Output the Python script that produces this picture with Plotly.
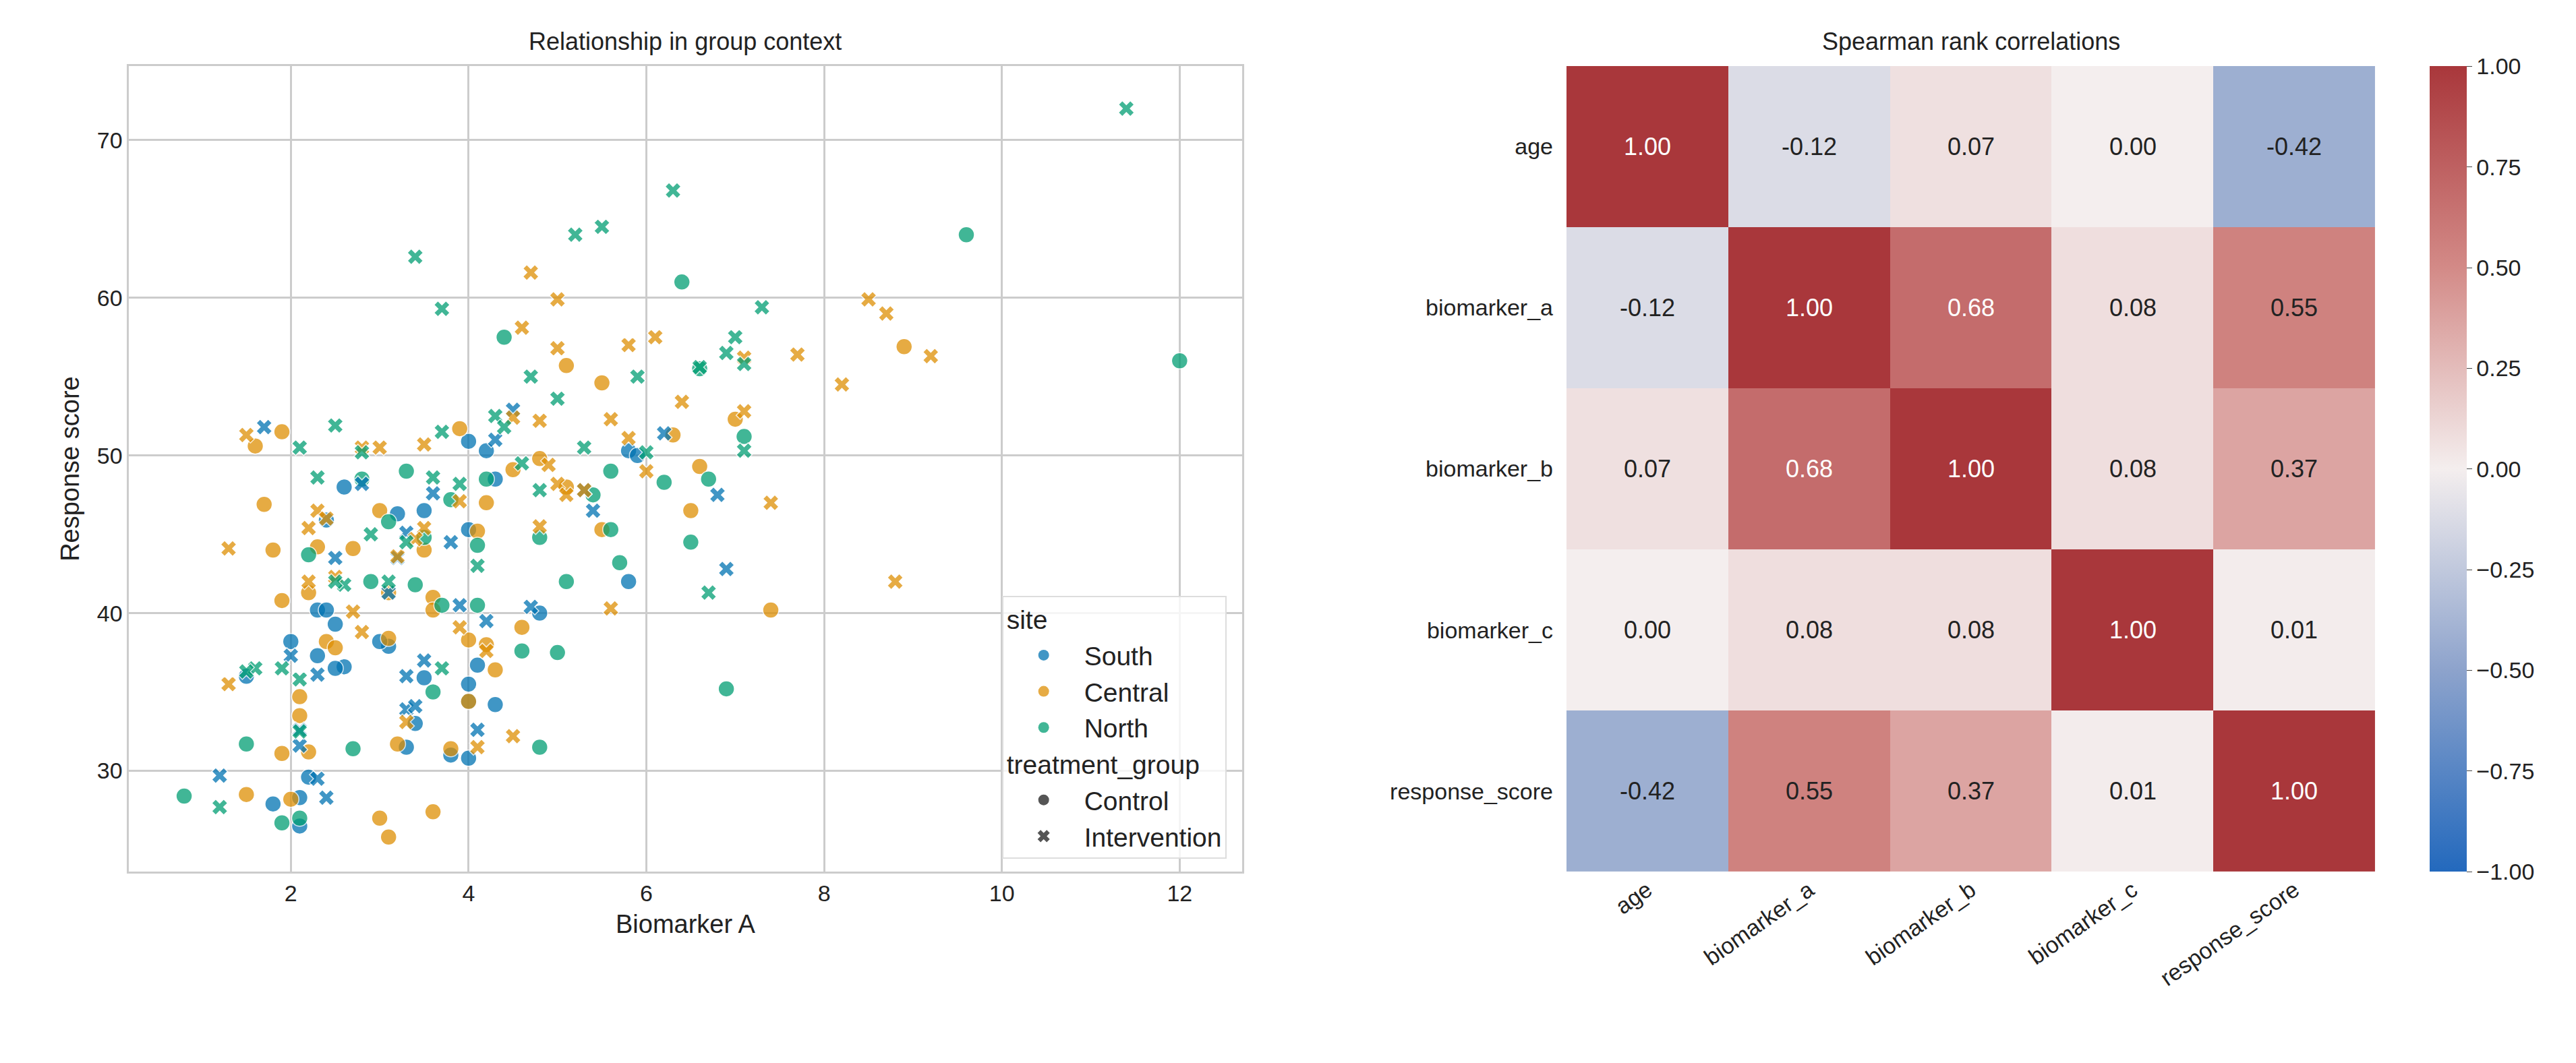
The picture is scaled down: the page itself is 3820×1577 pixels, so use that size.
import plotly.graph_objects as go

# scatter data: (biomarker A, response score)
north_int_x = [11.4, 6.3, 5.5, 5.2, 3.4, 3.7, 7.3, 7.0, 6.9, 7.1, 6.6, 5.9, 4.7, 5.0, 4.3, 4.4, 3.7, 2.5, 2.1, 2.8,
               6.0, 7.1, 4.6, 5.3, 3.6, 4.8, 3.9, 2.3, 6.7, 1.9, 1.6, 1.2, 2.1, 2.6, 3.1, 3.3, 4.1, 2.9, 2.5, 1.5, 3.7, 2.1]
north_int_y = [72.0, 66.8, 64.5, 64.0, 62.6, 59.3, 59.4, 57.5, 56.5, 55.8, 55.6, 55.0, 55.0, 53.6, 52.5, 51.8, 51.5, 51.9, 50.5, 50.2,
               50.2, 50.3, 49.5, 50.5, 48.6, 47.8, 48.2, 48.6, 41.3, 36.5, 36.5, 27.7, 32.5, 41.8, 42.0, 44.5, 43.0, 45.0, 42.0, 36.3, 36.5, 35.8]
north_ctl_x = [9.6, 12.0, 6.4, 4.4, 6.6, 6.2, 7.1, 5.6, 5.4, 4.2, 3.3, 2.8, 3.8, 2.2, 3.5, 4.1, 4.8, 5.6, 6.7, 6.9,
               5.0, 4.6, 3.7, 2.9, 3.4, 4.1, 1.5, 0.8, 1.9, 2.1, 2.7, 4.8, 3.6, 3.1, 5.1, 5.7, 6.5]
north_ctl_y = [64.0, 56.0, 61.0, 57.5, 55.5, 48.3, 51.2, 49.0, 47.5, 48.5, 49.0, 48.5, 47.2, 43.7, 44.8, 44.3, 44.8, 45.3, 48.5, 35.2,
               37.5, 37.6, 40.5, 42.0, 41.8, 40.5, 31.7, 28.4, 26.7, 27.0, 31.4, 31.5, 35.0, 45.8, 42.0, 43.2, 44.5]
central_int_x = [4.7, 5.0, 4.6, 5.0, 8.5, 8.7, 9.2, 7.7, 7.1, 8.2, 6.1, 5.8, 6.4, 7.1, 5.6, 5.8, 4.5, 4.8, 3.5, 3.0,
                 2.8, 1.5, 1.3, 2.3, 2.4, 2.2, 3.5, 3.9, 5.0, 4.9, 5.1, 5.3, 6.0, 7.4, 5.6, 4.8, 3.4, 2.7, 2.2, 2.5,
                 1.3, 2.8, 3.3, 4.1, 4.5, 8.8, 3.2, 3.9, 4.2]
central_int_y = [61.6, 59.9, 58.1, 56.8, 59.9, 59.0, 56.3, 56.4, 56.2, 54.5, 57.5, 57.0, 53.4, 52.8, 52.3, 51.1, 52.4, 52.2, 50.7, 50.5,
                 50.5, 51.3, 44.1, 46.5, 46.0, 45.4, 45.4, 47.1, 48.2, 49.4, 47.5, 47.8, 49.0, 47.0, 40.3, 45.5, 44.7, 40.1, 42.0, 42.3,
                 35.5, 38.8, 33.1, 31.5, 32.2, 42.0, 43.6, 39.1, 37.6]
central_ctl_x = [8.9, 5.5, 6.3, 5.1, 3.9, 1.9, 1.6, 6.6, 6.5, 7.0, 7.4, 1.7, 1.8, 2.3, 2.7, 3.0, 3.5, 4.5, 4.2, 4.1,
                 4.8, 1.9, 2.2, 3.1, 3.6, 4.2, 5.5, 2.4, 2.5, 3.6, 2.1, 2.1, 2.2, 3.2, 3.8, 1.9, 2.0, 1.5, 3.0, 3.6,
                 3.1, 4.6, 4.0, 5.1, 4.0, 3.1, 4.3]
central_ctl_y = [56.9, 54.6, 51.3, 55.7, 51.7, 51.5, 50.6, 49.3, 46.5, 52.3, 40.2, 46.9, 44.0, 44.2, 44.1, 46.5, 44.0, 49.1, 47.0, 45.2,
                 49.8, 40.8, 41.3, 41.3, 41.0, 38.0, 45.3, 38.2, 37.8, 40.2, 34.7, 33.5, 31.2, 31.7, 31.4, 31.1, 28.2, 28.5, 27.0, 27.4,
                 25.8, 39.1, 38.3, 48.0, 34.4, 38.4, 36.4]
south_int_x = [1.7, 4.5, 2.8, 4.3, 6.2, 6.8, 6.9, 5.4, 3.6, 3.3, 3.8, 3.2, 2.5, 2.0, 3.1, 3.9, 4.2, 4.7, 2.3, 3.3,
               3.5, 3.3, 4.1, 2.1, 2.1, 1.2, 2.3, 2.4, 3.4, 5.3]
south_int_y = [51.8, 52.9, 48.2, 51.0, 51.4, 47.5, 42.8, 46.5, 47.6, 45.1, 44.5, 43.5, 43.5, 37.3, 41.3, 40.5, 39.5, 40.4, 36.1, 36.0,
               37.0, 33.9, 32.6, 32.6, 31.6, 29.7, 29.5, 28.3, 34.1, 47.8]
south_ctl_x = [2.6, 4.0, 4.2, 4.0, 5.8, 5.9, 4.3, 2.4, 3.2, 2.3, 2.4, 2.0, 1.5, 2.5, 3.1, 3.5, 3.4, 3.0, 4.0, 4.3,
               4.0, 3.8, 2.6, 1.8, 2.1, 2.1, 2.2, 4.0, 4.1, 5.8, 3.3, 2.5, 2.3, 4.8, 3.5]
south_ctl_y = [48.0, 50.9, 50.3, 45.3, 50.3, 50.0, 48.5, 45.9, 46.3, 40.2, 40.2, 38.2, 36.0, 39.3, 37.9, 35.9, 33.0, 38.2, 35.5, 34.2,
               30.8, 31.0, 36.6, 27.9, 28.3, 26.5, 29.6, 34.4, 36.7, 42.0, 31.5, 36.5, 37.3, 40.0, 46.5]

# correlation matrix
variables = ['age', 'biomarker_a', 'biomarker_b', 'biomarker_c', 'response_score']
corr = [
    [1.00, -0.12, 0.07, 0.00, -0.42],
    [-0.12, 1.00, 0.68, 0.08, 0.55],
    [0.07, 0.68, 1.00, 0.08, 0.37],
    [0.00, 0.08, 0.08, 1.00, 0.01],
    [-0.42, 0.55, 0.37, 0.01, 1.00],
]

site_colors = {'South': '#0173b2', 'Central': '#de8f05', 'North': '#029e73'}
FONT = 'Liberation Sans, Arial, sans-serif'
TICK = 34

fig = go.Figure()

series = [
    ('South', 'circle', south_ctl_x, south_ctl_y),
    ('Central', 'circle', central_ctl_x, central_ctl_y),
    ('North', 'circle', north_ctl_x, north_ctl_y),
    ('South', 'x', south_int_x, south_int_y),
    ('Central', 'x', central_int_x, central_int_y),
    ('North', 'x', north_int_x, north_int_y),
]
for site, sym, xs, ys in series:
    fig.add_trace(go.Scatter(
        x=xs, y=ys, mode='markers', showlegend=False, xaxis='x', yaxis='y',
        marker=dict(color=site_colors[site], symbol=sym, size=24 if sym == 'circle' else 21,
                    opacity=0.75, line=dict(color='white', width=1.5)),
    ))

# legend entries
for i, site in enumerate(['South', 'Central', 'North']):
    fig.add_trace(go.Scatter(
        x=[None], y=[None], mode='markers', name=site, legendgroup='site',
        legendgrouptitle_text='site' if i == 0 else None,
        marker=dict(color=site_colors[site], size=22, opacity=0.75)))
for i, (grp, sym) in enumerate([('Control', 'circle'), ('Intervention', 'x')]):
    fig.add_trace(go.Scatter(
        x=[None], y=[None], mode='markers', name=grp, legendgroup='grp',
        legendgrouptitle_text='treatment_group' if i == 0 else None,
        marker=dict(color='#555555', symbol=sym, size=22 if sym == 'circle' else 18)))

# heatmap
colorscale = [[0, '#2369bd'], [0.25, '#8da3cc'], [0.5, '#f4eeee'], [0.75, '#d38a87'], [1, '#a9373b']]
fig.add_trace(go.Heatmap(
    z=corr, x=variables, y=variables, xaxis='x2', yaxis='y2', zmin=-1, zmax=1,
    colorscale=colorscale, showscale=True, xgap=0, ygap=0,
    colorbar=dict(x=0.941, xanchor='left', xpad=0, ypad=0, y=0.185, yanchor='bottom', len=0.758,
                  thickness=55, tickvals=[-1, -0.75, -0.5, -0.25, 0, 0.25, 0.5, 0.75, 1], tickformat='.2f',
                  ticks='outside', ticklen=8, outlinewidth=0,
                  tickfont=dict(size=TICK, family=FONT, color='#222222')),
))
for i, row in enumerate(corr):
    for j, v in enumerate(row):
        fig.add_annotation(x=variables[j], y=variables[i], xref='x2', yref='y2', text=f'{v:.2f}',
                           showarrow=False,
                           font=dict(size=36, family=FONT, color='white' if abs(v) > 0.6 else '#222222'))

axis_common = dict(showline=True, linecolor='#cccccc', linewidth=3, mirror=True, gridcolor='#cccccc',
                   gridwidth=3, zeroline=False, tickfont=dict(size=TICK, family=FONT, color='#222222'), ticks='')

fig.update_layout(
    width=3820, height=1577, plot_bgcolor='white', paper_bgcolor='white',
    margin=dict(l=0, r=0, t=0, b=0),
    font=dict(family=FONT, color='#222222'),
    xaxis=dict(domain=[0.048, 0.48], range=[0.18, 12.7], tickvals=[2, 4, 6, 8, 10, 12],
               title=dict(text='Biomarker A', font=dict(size=38)), **axis_common),
    yaxis=dict(domain=[0.185, 0.943], range=[23.6, 74.7], tickvals=[30, 40, 50, 60, 70],
               title=dict(text='Response score', font=dict(size=38), standoff=15), **axis_common),
    xaxis2=dict(domain=[0.606, 0.92], anchor='y2', showgrid=False, tickangle=-35, ticks='',
                tickfont=dict(size=TICK, family=FONT, color='#222222')),
    yaxis2=dict(domain=[0.185, 0.943], anchor='x2', autorange='reversed', showgrid=False, ticks='',
                ticksuffix='  ', tickfont=dict(size=TICK, family=FONT, color='#222222')),
    legend=dict(x=0.474, xanchor='right', y=0.197, yanchor='bottom', bgcolor='rgba(255,255,255,0.8)',
                bordercolor='#dddddd', borderwidth=2, font=dict(size=39, family=FONT, color='#222222'),
                tracegroupgap=0, grouptitlefont=dict(size=39, family=FONT, color='#222222'), itemwidth=110),
    annotations=list(fig.layout.annotations) + [
        dict(text='Relationship in group context', x=0.264, y=0.952, xref='paper', yref='paper',
             xanchor='center', yanchor='bottom', showarrow=False, font=dict(size=36, family=FONT, color='#222222')),
        dict(text='Spearman rank correlations', x=0.763, y=0.952, xref='paper', yref='paper',
             xanchor='center', yanchor='bottom', showarrow=False, font=dict(size=36, family=FONT, color='#222222')),
    ],
)

fig.write_html('out.html')
